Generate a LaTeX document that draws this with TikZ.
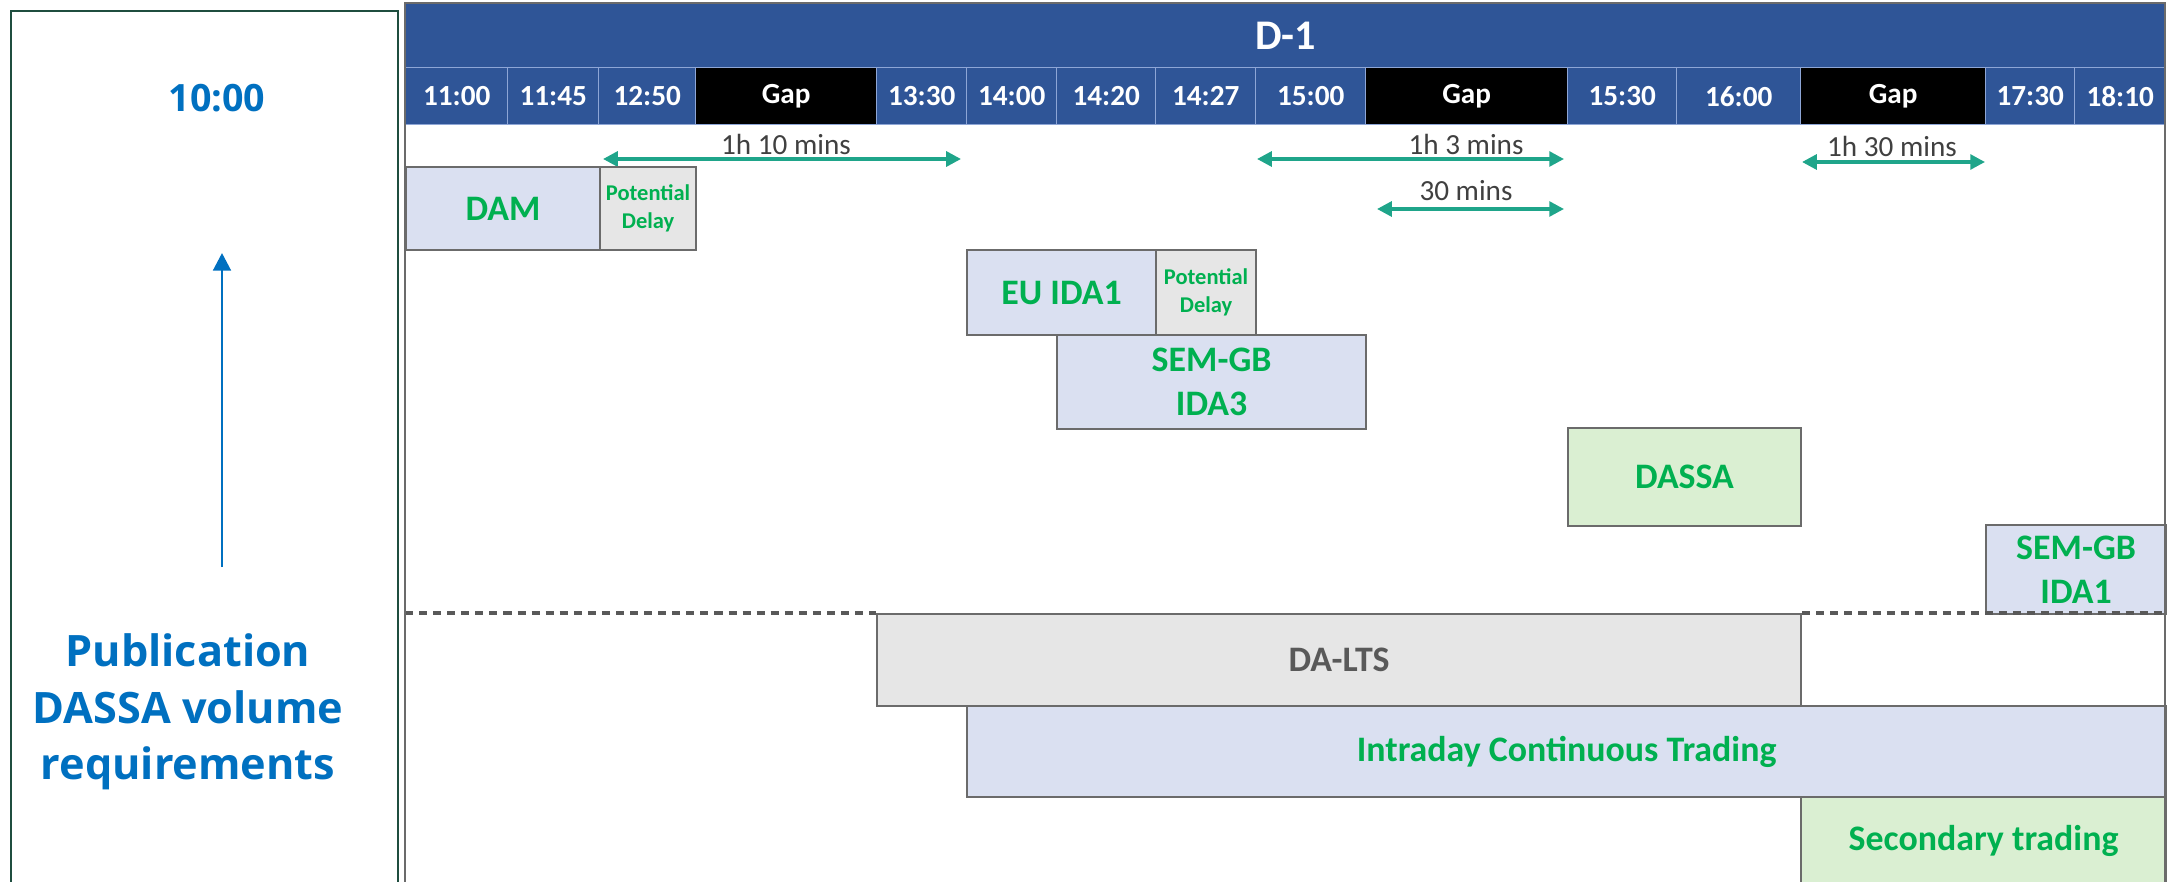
\documentclass[tikz,border=0pt]{standalone}
\usepackage{fontspec}
\setmainfont{Carlito}
\newfontfamily\pubfont{Open Sans}
\usetikzlibrary{arrows.meta}

\definecolor{hdrblue}{HTML}{2F5597}
\definecolor{sepline}{HTML}{8EA6D6}
\definecolor{lblue}{HTML}{DAE0F1}
\definecolor{lgreen}{HTML}{DAEFD2}
\definecolor{lgray}{HTML}{E6E6E6}
\definecolor{txtgreen}{HTML}{00B050}
\definecolor{spanteal}{HTML}{1FA58A}
\definecolor{pubblue}{HTML}{0070C0}
\definecolor{framegreen}{HTML}{1F4E3F}
\definecolor{boxline}{HTML}{6B6B6B}
\definecolor{darktext}{HTML}{404040}
\definecolor{ltstext}{HTML}{595959}

% a box given by its corners: name, x1, y1, x2, y2, style, text
\newcommand\slot[7]{%
  \pgfmathsetmacro\slotw{(#4-#2)*0.01}%
  \pgfmathsetmacro\sloth{(#5-#3)*0.01}%
  \node[#6, anchor=north west, minimum width=\slotw cm, minimum height=\sloth cm] (#1) at (#2,#3) {#7};}

\begin{document}
\begin{tikzpicture}[x=0.01cm, y=-0.01cm,
  tcell/.style={fill=hdrblue, draw=sepline, line width=0.4pt, text=white, inner sep=0pt,
    font=\fontsize{8.3}{10}\selectfont\bfseries},
  gcell/.style={tcell, fill=black},
  slotbar/.style={draw=boxline, line width=0.6pt, inner sep=0pt, align=center, text=txtgreen,
    font=\fontsize{10.2}{12.5}\selectfont\bfseries},
  bluebar/.style={slotbar, fill=lblue},
  greenbar/.style={slotbar, fill=lgreen},
  greybar/.style={slotbar, fill=lgray},
  delay/.style={greybar, font=\fontsize{6.4}{7.9}\selectfont\bfseries},
  gapspan/.style={draw=spanteal, line width=1pt,
    {Triangle[length=4.2pt,width=4.2pt]}-{Triangle[length=4.2pt,width=4.2pt]}},
  spanlab/.style={anchor=base, text=darktext, inner sep=0pt,
    font=\fontsize{8.3}{10}\selectfont},
  divider/.style={draw=ltstext, line width=1.1pt, dash pattern=on 2.3pt off 1.7pt},
  pubtext/.style={text=pubblue, align=center, inner sep=0pt},
]
\useasboundingbox (0,0) rectangle (2167,882);

% ---- left panel: publication time ----
\draw[framegreen, line width=0.8pt] (11,884) -- (11,11) -- (398,11) -- (398,884);
\node[pubtext, font=\pubfont\bfseries\fontsize{10.7}{13}\selectfont] (ten) at (217,98) {10:00};
\node[pubtext, font=\pubfont\bfseries\fontsize{12.3}{16}\selectfont] (pub) at (188,712)
  {Publication\\DASSA volume\\requirements};
\coordinate (arrfoot) at (222,567);
\coordinate (arrhead) at (222,253);
\draw[pubblue, line width=0.85pt, -{Triangle[length=5pt,width=5pt]}] (arrfoot) -- (arrhead);

% ---- right panel: D-1 timeline ----
\slot{dday}{405}{3}{2165}{67}{tcell, font=\fontsize{12}{14}\selectfont\bfseries}{D-1}
\foreach \xa/\xb/\lab/\kind [count=\i] in {
  405/507/11:00/tcell, 507/598/11:45/tcell, 598/695/12:50/tcell, 695/876/Gap/gcell,
  876/966/13:30/tcell, 966/1056/14:00/tcell, 1056/1155/14:20/tcell, 1155/1255/14:27/tcell,
  1255/1365/15:00/tcell, 1365/1567/Gap/gcell, 1567/1676/15:30/tcell, 1676/1800/16:00/tcell,
  1800/1985/Gap/gcell, 1985/2074/17:30/tcell, 2074/2165/18:10/tcell}
  {\slot{t\i}{\xa}{67}{\xb}{124}{\kind}{\lab}}

% durations between auctions
\coordinate (s1a) at (603,159);  \coordinate (s1b) at (961,159);
\coordinate (s2a) at (1257,159); \coordinate (s2b) at (1564,159);
\coordinate (s3a) at (1377,209); \coordinate (s3b) at (1564,209);
\coordinate (s4a) at (1802,162); \coordinate (s4b) at (1985,162);
\draw[gapspan] (s1a) -- (s1b);
\draw[gapspan] (s2a) -- (s2b);
\draw[gapspan] (s3a) -- (s3b);
\draw[gapspan] (s4a) -- (s4b);
\node[spanlab] (l1) at (786,155)  {1h 10 mins};
\node[spanlab] (l2) at (1466,155) {1h 3 mins};
\node[spanlab] (l3) at (1466,200) {30 mins};
\node[spanlab] (l4) at (1892,157) {1h 30 mins};

% auctions and trading windows
\slot{dam}{405}{166}{599}{249}{bluebar}{DAM}
\slot{damdelay}{599}{166}{695}{249}{delay}{Potential\\Delay}
\slot{euida}{966}{249}{1155}{334}{bluebar}{EU IDA1}
\slot{eudelay}{1155}{249}{1255}{334}{delay}{Potential\\Delay}
\slot{ida3}{1056}{334}{1365}{428}{bluebar}{SEM-GB\\IDA3}
\slot{dassa}{1567}{427}{1800}{525}{greenbar}{DASSA}
\slot{ida1}{1985}{524}{2165}{613}{bluebar}{SEM-GB\\IDA1}
\slot{dalts}{876}{613}{1800}{705}{greybar, text=ltstext}{DA-LTS}
\slot{ict}{966}{705}{2165}{796}{bluebar}{Intraday Continuous Trading}
\slot{sec}{1800}{796}{2165}{884}{greenbar}{Secondary trading}

% separator between auctions and continuous markets
\coordinate (divl) at (405,613);
\coordinate (divr) at (2165,613);
\draw[divider] (divl) -- (dalts.north west);
\draw[divider] (dalts.north east) -- (divr);

% panel frame
\draw[boxline, line width=0.8pt] (405,884) -- (405,3) -- (2165,3) -- (2165,884);
\end{tikzpicture}
\end{document}
